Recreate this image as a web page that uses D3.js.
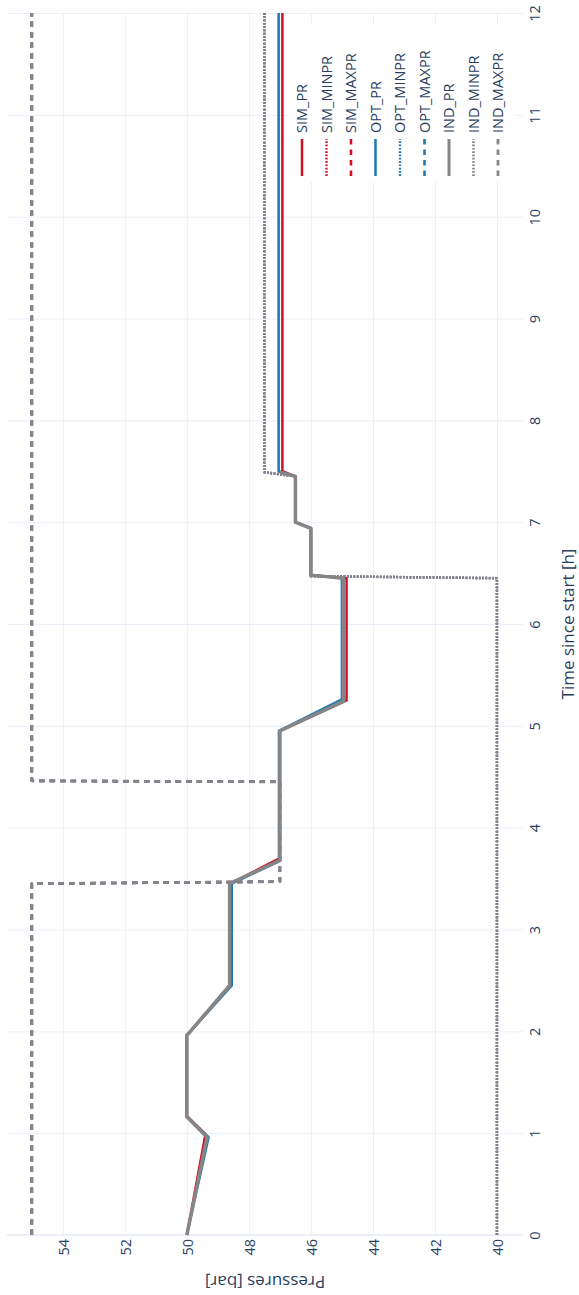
<!DOCTYPE html>
<html>
<head>
<meta charset="utf-8">
<script src="https://cdn.jsdelivr.net/npm/d3@7"></script>
<style>
  html, body { margin: 0; padding: 0; background: #fff; }
  svg { display: block; font-family: "Open Sans", "Noto Sans", sans-serif; }
</style>
</head>
<body>
<svg id="chart" width="579" height="1295"></svg>
<script>
// ---------------- data (time in hours, pressure in bar) ----------------
const seriesNames = ["SIM_PR", "SIM_MINPR", "SIM_MAXPR", "OPT_PR", "OPT_MINPR", "OPT_MAXPR", "IND_PR", "IND_MINPR", "IND_MAXPR"];

const pressureTicks = [40, 42, 44, 46, 48, 50, 52, 54];
const timeTicks = [0, 1, 2, 3, 4, 5, 6, 7, 8, 9, 10, 11, 12];

const simPrTime   = [0, 0.99, 1.17, 1.96, 2.45, 3.45, 3.70, 4.95, 5.25, 6.45, 6.48, 6.94, 7.00, 7.45, 7.50, 12];
const simPrValue  = [50, 49.40, 50, 50, 48.60, 48.60, 47.00, 47.00, 44.85, 44.85, 46.0, 46.0, 46.5, 46.5, 46.92, 46.92];

const optPrTime   = [0, 0.96, 1.16, 1.96, 2.45, 3.45, 3.67, 4.95, 5.26, 6.45, 6.48, 6.94, 7.00, 7.45, 7.50, 12];
const optPrValue  = [50, 49.30, 50, 50, 48.55, 48.55, 47.03, 47.03, 45.00, 45.00, 46.0, 46.0, 46.5, 46.5, 47.04, 47.04];

const indPrTime   = [0, 0.96, 1.16, 1.96, 2.45, 3.45, 3.68, 4.95, 5.24, 6.45, 6.48, 6.94, 7.00, 7.45, 7.49];
const indPrValue  = [50, 49.35, 50, 50, 48.62, 48.62, 47.00, 47.00, 44.95, 44.95, 46.0, 46.0, 46.5, 46.5, 47.00];

const minPrTime   = [0, 6.45, 6.47, 6.94, 7.00, 7.45, 7.49, 12];
const simMinValue = [40, 40, 46.0, 46.0, 46.5, 46.5, 47.5, 47.5];
const optMinValue = [40, 40, 46.0, 46.0, 46.5, 46.5, 47.5, 47.5];
const indMinValue = [40, 40, 46.0, 46.0, 46.5, 46.5, 47.5, 47.5];

const maxPrTime   = [0, 3.45, 3.47, 4.45, 4.46, 12];
const simMaxValue = [55, 55, 47, 47, 55, 55];
const optMaxValue = [55, 55, 47, 47, 55, 55];
const indMaxValue = [55, 55, 47, 47, 55, 55];

// ---------------- styles ----------------
const RED = "#d20f26", BLUE = "#1f77b4", GRAY = "#868686";
const DOT = "1.7,1.6", DASH = "5.5,5";
const styles = {
  SIM_PR:    { color: RED,  dash: null, width: 2.5 },
  SIM_MINPR: { color: RED,  dash: DOT,  width: 2.4 },
  SIM_MAXPR: { color: RED,  dash: DASH, width: 2.6 },
  OPT_PR:    { color: BLUE, dash: null, width: 2.5 },
  OPT_MINPR: { color: BLUE, dash: DOT,  width: 2.4 },
  OPT_MAXPR: { color: BLUE, dash: DASH, width: 2.6 },
  IND_PR:    { color: GRAY, dash: null, width: 3.5 },
  IND_MINPR: { color: GRAY, dash: DOT,  width: 2.6 },
  IND_MAXPR: { color: GRAY, dash: DASH, width: 2.8 }
};

const zip = (ts, vs) => ts.map((t, i) => ({ t: t, p: vs[i] }));
const seriesData = {
  SIM_PR: zip(simPrTime, simPrValue),
  SIM_MINPR: zip(minPrTime, simMinValue),
  SIM_MAXPR: zip(maxPrTime, simMaxValue),
  OPT_PR: zip(optPrTime, optPrValue),
  OPT_MINPR: zip(minPrTime, optMinValue),
  OPT_MAXPR: zip(maxPrTime, optMaxValue),
  IND_PR: zip(indPrTime, indPrValue),
  IND_MINPR: zip(minPrTime, indMinValue),
  IND_MAXPR: zip(maxPrTime, indMaxValue)
};

// ---------------- layout (chart drawn rotated: pressure horizontal, time vertical) ----------------
const svg = d3.select("#chart");
const plotL = 7, plotR = 523, plotT = 13, plotB = 1235;
const TEXT = "#2a3f5f", GRID = "#ebf0f8";

const x = d3.scaleLinear().domain([55.8, 39.16]).range([plotL, plotR]);
const y = d3.scaleLinear().domain([0, 12]).range([plotB, plotT]);

svg.append("rect").attr("x", 0).attr("y", 0).attr("width", 579).attr("height", 1295).attr("fill", "#fff");

// grid lines
svg.append("g")
  .attr("transform", `translate(0,${plotB})`)
  .call(d3.axisBottom(x).tickValues(pressureTicks).tickSize(-(plotB - plotT)).tickFormat(""))
  .call(g => g.select(".domain").remove())
  .call(g => g.selectAll("line").attr("stroke", GRID).attr("stroke-width", 1));

svg.append("g")
  .attr("transform", `translate(${plotR},0)`)
  .call(d3.axisRight(y).tickValues(timeTicks.filter(t => t !== 0)).tickSize(-(plotR - plotL)).tickFormat(""))
  .call(g => g.select(".domain").remove())
  .call(g => g.selectAll("line").attr("stroke", GRID).attr("stroke-width", 1));

// zero line (time = 0)
svg.append("line")
  .attr("x1", plotL).attr("x2", plotR)
  .attr("y1", y(0)).attr("y2", y(0))
  .attr("stroke", GRID).attr("stroke-width", 2);

// pressure tick labels
svg.append("g")
  .attr("transform", `translate(0,${plotB})`)
  .call(d3.axisBottom(x).tickValues(pressureTicks).tickSize(0).tickFormat(d3.format("d")))
  .call(g => g.select(".domain").remove())
  .call(g => g.selectAll("text")
    .attr("x", -4).attr("y", 0).attr("dy", "0.36em")
    .attr("text-anchor", "end")
    .attr("transform", "rotate(-90)")
    .attr("fill", TEXT).attr("font-size", 14.5)
    .attr("font-family", "'Open Sans', sans-serif"));

// time tick labels
svg.append("g")
  .attr("transform", `translate(${plotR},0)`)
  .call(d3.axisRight(y).tickValues(timeTicks).tickSize(0).tickFormat(d3.format("d")))
  .call(g => g.select(".domain").remove())
  .call(g => g.selectAll("text")
    .attr("x", 0).attr("y", 12).attr("dy", "0.36em")
    .attr("text-anchor", "middle")
    .attr("transform", "rotate(-90)")
    .attr("fill", TEXT).attr("font-size", 14.5)
    .attr("font-family", "'Open Sans', sans-serif"));

// axis titles
svg.append("text")
  .attr("transform", `translate(${(plotL + plotR) / 2},1282) rotate(180)`)
  .attr("text-anchor", "middle").attr("dominant-baseline", "central")
  .attr("fill", TEXT).attr("font-size", 17)
  .text("Pressures [bar]");

svg.append("text")
  .attr("transform", `translate(567,${(plotT + plotB) / 2}) rotate(-90)`)
  .attr("text-anchor", "middle").attr("dominant-baseline", "central")
  .attr("fill", TEXT).attr("font-size", 17)
  .text("Time since start [h]");

// clip
svg.append("clipPath").attr("id", "plotclip")
  .append("rect").attr("x", plotL).attr("y", plotT - 2)
  .attr("width", plotR - plotL).attr("height", plotB - plotT + 4);

const line = d3.line().x(d => x(d.p)).y(d => y(d.t));
const lines = svg.append("g").attr("clip-path", "url(#plotclip)");
seriesNames.forEach(name => {
  const s = styles[name];
  lines.append("path")
    .datum(seriesData[name])
    .attr("d", line)
    .attr("fill", "none")
    .attr("stroke", s.color)
    .attr("stroke-width", s.width)
    .attr("stroke-dasharray", s.dash)
    .attr("stroke-linejoin", "round");
});

// legend
const legX0 = 302, legStep = 24.5, legBottom = 182, legTop = 25;
const leg = svg.append("g");
leg.append("rect")
  .attr("x", 289).attr("y", legTop)
  .attr("width", 515 - 289).attr("height", legBottom - legTop)
  .attr("fill", "#fff");
seriesNames.forEach((name, i) => {
  const s = styles[name];
  const cx = legX0 + i * legStep;
  leg.append("line")
    .attr("x1", cx).attr("x2", cx)
    .attr("y1", legBottom - 6).attr("y2", legBottom - 43)
    .attr("stroke", s.color)
    .attr("stroke-width", Math.min(s.width, 3))
    .attr("stroke-dasharray", s.dash);
  leg.append("text")
    .attr("transform", `translate(${cx},${legBottom - 49}) rotate(-90)`)
    .attr("dy", "0.36em")
    .attr("text-anchor", "start")
    .attr("fill", TEXT).attr("font-size", 14.5)
    .text(name);
});
</script>
</body>
</html>
